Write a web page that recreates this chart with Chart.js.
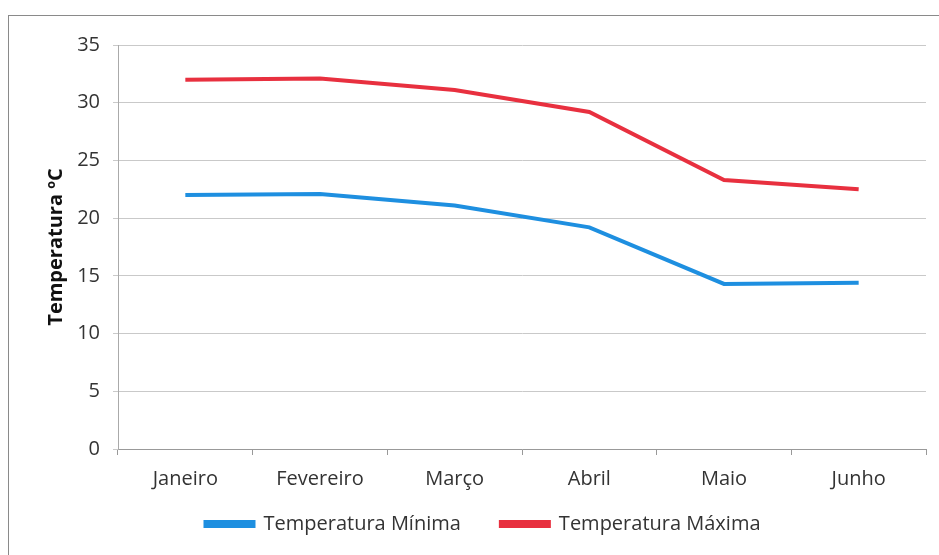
<!DOCTYPE html>
<html>
<head>
<meta charset="utf-8">
<script src="https://cdn.jsdelivr.net/npm/chart.js@4/dist/chart.umd.min.js"></script>
<style>
  body { margin: 0; background: #fff; overflow: hidden; }
  #box { position: absolute; left: 8px; top: 15px; width: 945px; height: 560px; border: 1px solid #8a8a8a; overflow: hidden; }
  canvas { position: absolute; left: 0; top: 0; }
</style>
</head>
<body>
<div id="box"><canvas id="c" width="931" height="550"></canvas></div>
<script>
// meses e temperaturas (ºC)
const meses = ["Janeiro", "Fevereiro", "Março", "Abril", "Maio", "Junho"];
const tempMinima = [22.0, 22.1, 21.1, 19.2, 14.3, 14.4];
const tempMaxima = [32.0, 32.1, 31.1, 29.2, 23.3, 22.5];
const yTicks = [0, 5, 10, 15, 20, 25, 30, 35];

const fonte = "'Open Sans', sans-serif";

// sobe a legenda para ficar mais perto do eixo (o padding grande so serve para o espaco entre itens)
const subirLegenda = {
    id: 'subirLegenda',
    afterLayout(chart) {
        chart.legend.top -= 22;
        chart.legend.bottom -= 22;
    }
};

const chart = new Chart(document.getElementById("c"), {
    type: 'line',
    data: {
        labels: meses,
        datasets: [{
            label: "Temperatura Mínima",
            data: tempMinima,
            borderColor: "#1e8fe0",
            backgroundColor: "#1e8fe0",
            borderWidth: 4,
            pointRadius: 0,
            tension: 0,
            fill: false
        }, {
            label: "Temperatura Máxima",
            data: tempMaxima,
            borderColor: "#e8303f",
            backgroundColor: "#e8303f",
            borderWidth: 4,
            pointRadius: 0,
            tension: 0,
            fill: false
        }]
    },
    options: {
        responsive: false,
        animation: false,
        layout: { padding: { left: 31, right: 14, top: 29, bottom: 0 } },
        plugins: {
            legend: {
                position: 'bottom',
                labels: {
                    boxWidth: 48,
                    boxHeight: 4,
                    padding: 40,
                    color: '#333',
                    font: { family: fonte, size: 20 }
                }
            },
            tooltip: { enabled: false }
        },
        scales: {
            x: {
                offset: true,
                grid: { offset: true, drawOnChartArea: false, tickLength: 6, color: '#999' },
                border: { color: '#999' },
                ticks: { color: '#333', padding: 12, font: { family: fonte, size: 20 } },
                afterFit: s => { s.height = 47; }
            },
            y: {
                min: 0,
                max: 35,
                afterBuildTicks: s => { s.ticks = yTicks.map(v => ({ value: v })); },
                grid: { color: '#c9c9c9', tickLength: 5 },
                border: { color: '#aaa' },
                ticks: { color: '#333', padding: 13, font: { family: fonte, size: 20 } },
                title: {
                    display: true,
                    text: 'Temperatura ºC',
                    color: '#111',
                    font: { family: fonte, size: 20, weight: 'bold' }
                },
                afterFit: s => { s.width = 78; }
            }
        }
    },
    plugins: [subirLegenda]
});
</script>
</body>
</html>
